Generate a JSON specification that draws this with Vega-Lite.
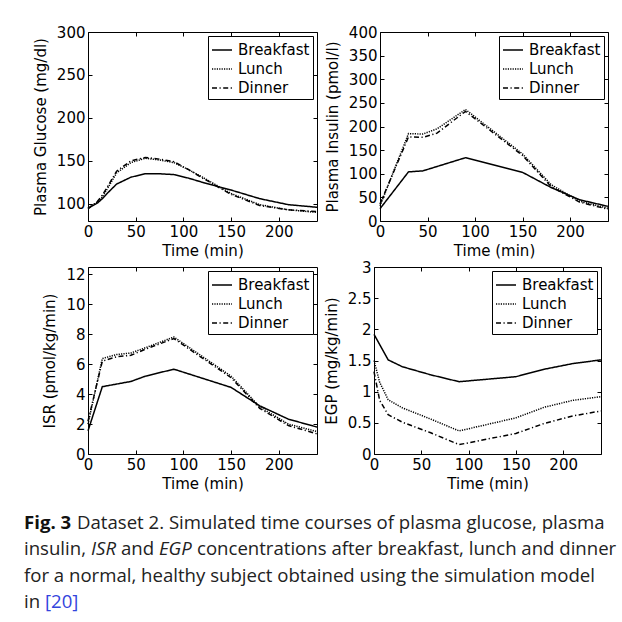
{
  "$schema": "https://vega.github.io/schema/vega-lite/v6.json",
  "background": "white",
  "padding": {"left": 23, "top": 24, "right": 6, "bottom": 0},
  "datasets": {
    "glucose": [
      {"t": 0, "meal": "Breakfast", "v": 95}, {"t": 10, "meal": "Breakfast", "v": 101}, {"t": 15, "meal": "Breakfast", "v": 106}, {"t": 20, "meal": "Breakfast", "v": 112}, {"t": 30, "meal": "Breakfast", "v": 123}, {"t": 45, "meal": "Breakfast", "v": 131}, {"t": 60, "meal": "Breakfast", "v": 135}, {"t": 75, "meal": "Breakfast", "v": 135}, {"t": 90, "meal": "Breakfast", "v": 134}, {"t": 105, "meal": "Breakfast", "v": 130}, {"t": 120, "meal": "Breakfast", "v": 125}, {"t": 150, "meal": "Breakfast", "v": 116}, {"t": 180, "meal": "Breakfast", "v": 106}, {"t": 210, "meal": "Breakfast", "v": 99}, {"t": 240, "meal": "Breakfast", "v": 96},
      {"t": 0, "meal": "Lunch", "v": 95}, {"t": 10, "meal": "Lunch", "v": 102}, {"t": 15, "meal": "Lunch", "v": 108}, {"t": 20, "meal": "Lunch", "v": 117}, {"t": 30, "meal": "Lunch", "v": 136}, {"t": 45, "meal": "Lunch", "v": 148}, {"t": 60, "meal": "Lunch", "v": 153}, {"t": 75, "meal": "Lunch", "v": 151}, {"t": 90, "meal": "Lunch", "v": 148}, {"t": 105, "meal": "Lunch", "v": 140}, {"t": 120, "meal": "Lunch", "v": 131}, {"t": 150, "meal": "Lunch", "v": 112}, {"t": 180, "meal": "Lunch", "v": 99}, {"t": 210, "meal": "Lunch", "v": 93}, {"t": 240, "meal": "Lunch", "v": 90},
      {"t": 0, "meal": "Dinner", "v": 94}, {"t": 10, "meal": "Dinner", "v": 103}, {"t": 15, "meal": "Dinner", "v": 110}, {"t": 20, "meal": "Dinner", "v": 119}, {"t": 30, "meal": "Dinner", "v": 138}, {"t": 45, "meal": "Dinner", "v": 150}, {"t": 60, "meal": "Dinner", "v": 154}, {"t": 75, "meal": "Dinner", "v": 152}, {"t": 90, "meal": "Dinner", "v": 149}, {"t": 105, "meal": "Dinner", "v": 140}, {"t": 120, "meal": "Dinner", "v": 130}, {"t": 150, "meal": "Dinner", "v": 111}, {"t": 180, "meal": "Dinner", "v": 98}, {"t": 210, "meal": "Dinner", "v": 93}, {"t": 240, "meal": "Dinner", "v": 91}
    ],
    "insulin": [
      {"t": 0, "meal": "Breakfast", "v": 26}, {"t": 30, "meal": "Breakfast", "v": 104}, {"t": 45, "meal": "Breakfast", "v": 106}, {"t": 90, "meal": "Breakfast", "v": 134}, {"t": 150, "meal": "Breakfast", "v": 103}, {"t": 180, "meal": "Breakfast", "v": 71}, {"t": 210, "meal": "Breakfast", "v": 45}, {"t": 240, "meal": "Breakfast", "v": 31},
      {"t": 0, "meal": "Lunch", "v": 32}, {"t": 30, "meal": "Lunch", "v": 185}, {"t": 45, "meal": "Lunch", "v": 184}, {"t": 60, "meal": "Lunch", "v": 195}, {"t": 90, "meal": "Lunch", "v": 236}, {"t": 150, "meal": "Lunch", "v": 142}, {"t": 180, "meal": "Lunch", "v": 77}, {"t": 210, "meal": "Lunch", "v": 42}, {"t": 240, "meal": "Lunch", "v": 27},
      {"t": 0, "meal": "Dinner", "v": 36}, {"t": 30, "meal": "Dinner", "v": 178}, {"t": 45, "meal": "Dinner", "v": 177}, {"t": 60, "meal": "Dinner", "v": 186}, {"t": 90, "meal": "Dinner", "v": 232}, {"t": 150, "meal": "Dinner", "v": 139}, {"t": 180, "meal": "Dinner", "v": 73}, {"t": 210, "meal": "Dinner", "v": 40}, {"t": 240, "meal": "Dinner", "v": 25}
    ],
    "isr": [
      {"t": 0, "meal": "Breakfast", "v": 1.55}, {"t": 15, "meal": "Breakfast", "v": 4.5}, {"t": 45, "meal": "Breakfast", "v": 4.85}, {"t": 60, "meal": "Breakfast", "v": 5.2}, {"t": 90, "meal": "Breakfast", "v": 5.67}, {"t": 150, "meal": "Breakfast", "v": 4.45}, {"t": 180, "meal": "Breakfast", "v": 3.22}, {"t": 210, "meal": "Breakfast", "v": 2.33}, {"t": 240, "meal": "Breakfast", "v": 1.8},
      {"t": 0, "meal": "Lunch", "v": 2.0}, {"t": 15, "meal": "Lunch", "v": 6.38}, {"t": 30, "meal": "Lunch", "v": 6.65}, {"t": 45, "meal": "Lunch", "v": 6.75}, {"t": 60, "meal": "Lunch", "v": 7.1}, {"t": 90, "meal": "Lunch", "v": 7.82}, {"t": 150, "meal": "Lunch", "v": 5.2}, {"t": 180, "meal": "Lunch", "v": 3.15}, {"t": 210, "meal": "Lunch", "v": 2.0}, {"t": 240, "meal": "Lunch", "v": 1.5},
      {"t": 0, "meal": "Dinner", "v": 2.2}, {"t": 15, "meal": "Dinner", "v": 6.2}, {"t": 30, "meal": "Dinner", "v": 6.5}, {"t": 45, "meal": "Dinner", "v": 6.6}, {"t": 60, "meal": "Dinner", "v": 7.0}, {"t": 90, "meal": "Dinner", "v": 7.72}, {"t": 150, "meal": "Dinner", "v": 5.1}, {"t": 180, "meal": "Dinner", "v": 3.05}, {"t": 210, "meal": "Dinner", "v": 1.9}, {"t": 240, "meal": "Dinner", "v": 1.35}
    ],
    "egp": [
      {"t": 0, "meal": "Breakfast", "v": 1.92}, {"t": 15, "meal": "Breakfast", "v": 1.51}, {"t": 30, "meal": "Breakfast", "v": 1.4}, {"t": 60, "meal": "Breakfast", "v": 1.27}, {"t": 90, "meal": "Breakfast", "v": 1.16}, {"t": 150, "meal": "Breakfast", "v": 1.24}, {"t": 180, "meal": "Breakfast", "v": 1.36}, {"t": 210, "meal": "Breakfast", "v": 1.45}, {"t": 240, "meal": "Breakfast", "v": 1.51},
      {"t": 0, "meal": "Lunch", "v": 1.5}, {"t": 6, "meal": "Lunch", "v": 1.15}, {"t": 15, "meal": "Lunch", "v": 0.87}, {"t": 30, "meal": "Lunch", "v": 0.74}, {"t": 60, "meal": "Lunch", "v": 0.56}, {"t": 90, "meal": "Lunch", "v": 0.37}, {"t": 150, "meal": "Lunch", "v": 0.58}, {"t": 180, "meal": "Lunch", "v": 0.75}, {"t": 210, "meal": "Lunch", "v": 0.86}, {"t": 240, "meal": "Lunch", "v": 0.92},
      {"t": 0, "meal": "Dinner", "v": 1.32}, {"t": 6, "meal": "Dinner", "v": 0.86}, {"t": 15, "meal": "Dinner", "v": 0.63}, {"t": 30, "meal": "Dinner", "v": 0.51}, {"t": 60, "meal": "Dinner", "v": 0.34}, {"t": 90, "meal": "Dinner", "v": 0.15}, {"t": 150, "meal": "Dinner", "v": 0.33}, {"t": 180, "meal": "Dinner", "v": 0.49}, {"t": 210, "meal": "Dinner", "v": 0.61}, {"t": 240, "meal": "Dinner", "v": 0.69}
    ],
    "caption": [
      {"line": 1, "part": "bold", "text": "Fig. 3"},
      {"line": 1, "part": "l1", "text": "Dataset 2. Simulated time courses of plasma glucose, plasma"},
      {"line": 2, "part": "plain", "text": "insulin,"},
      {"line": 2, "part": "isr", "text": "ISR"},
      {"line": 2, "part": "and", "text": "and"},
      {"line": 2, "part": "egp", "text": "EGP"},
      {"line": 2, "part": "l2b", "text": "concentrations after breakfast, lunch and dinner"},
      {"line": 3, "part": "plain", "text": "for a normal, healthy subject obtained using the simulation model"},
      {"line": 4, "part": "plain", "text": "in"},
      {"line": 4, "part": "ref", "text": "[20]"}
    ]
  },
  "vconcat": [
    {
      "vconcat": [
        {
          "hconcat": [
            {
              "data": {"name": "glucose"},
              "width": 229, "height": 189,
              "layer": [
                {
                  "mark": {"type": "line", "color": "black", "strokeWidth": 1.5},
                  "encoding": {
                    "x": {"field": "t", "type": "quantitative", "scale": {"domain": [0, 240], "nice": false}, "axis": {"title": "Time (min)", "values": [0, 50, 100, 150, 200]}},
                    "y": {"field": "v", "type": "quantitative", "scale": {"domain": [80, 300], "nice": false, "zero": false}, "axis": {"title": "Plasma Glucose (mg/dl)", "values": [100, 150, 200, 250, 300]}},
                    "strokeDash": {"field": "meal", "type": "nominal", "scale": {"domain": ["Breakfast", "Lunch", "Dinner"], "range": [[1, 0], [1.2, 1.2], [5, 2.5, 1.2, 2.5]]}}
                  }
                },
                {
                  "mark": {"type": "line", "opacity": 0},
                  "encoding": {
                    "x": {"field": "t", "type": "quantitative", "scale": {"domain": [0, 240], "nice": false}, "axis": {"orient": "top", "labels": false, "title": null, "values": [0, 50, 100, 150, 200]}},
                    "y": {"field": "v", "type": "quantitative", "scale": {"domain": [80, 300], "nice": false, "zero": false}, "axis": {"orient": "right", "labels": false, "title": null, "values": [100, 150, 200, 250, 300]}},
                    "detail": {"field": "meal"}
                  }
                }
              ],
              "resolve": {"axis": {"x": "independent", "y": "independent"}}
            },
            {
              "data": {"name": "insulin"},
              "width": 228, "height": 189,
              "layer": [
                {
                  "mark": {"type": "line", "color": "black", "strokeWidth": 1.5},
                  "encoding": {
                    "x": {"field": "t", "type": "quantitative", "scale": {"domain": [0, 240], "nice": false}, "axis": {"title": "Time (min)", "values": [0, 50, 100, 150, 200]}},
                    "y": {"field": "v", "type": "quantitative", "scale": {"domain": [0, 400], "nice": false}, "axis": {"title": "Plasma Insulin (pmol/l)", "values": [0, 50, 100, 150, 200, 250, 300, 350, 400]}},
                    "strokeDash": {"field": "meal", "type": "nominal", "scale": {"domain": ["Breakfast", "Lunch", "Dinner"], "range": [[1, 0], [1.2, 1.2], [5, 2.5, 1.2, 2.5]]}}
                  }
                },
                {
                  "mark": {"type": "line", "opacity": 0},
                  "encoding": {
                    "x": {"field": "t", "type": "quantitative", "scale": {"domain": [0, 240], "nice": false}, "axis": {"orient": "top", "labels": false, "title": null, "values": [0, 50, 100, 150, 200]}},
                    "y": {"field": "v", "type": "quantitative", "scale": {"domain": [0, 400], "nice": false}, "axis": {"orient": "right", "labels": false, "title": null, "values": [0, 50, 100, 150, 200, 250, 300, 350, 400]}},
                    "detail": {"field": "meal"}
                  }
                }
              ],
              "resolve": {"axis": {"x": "independent", "y": "independent"}}
            }
          ],
          "spacing": 3,
          "resolve": {"scale": {"strokeDash": "independent"}, "legend": {"strokeDash": "independent"}}
        },
        {
          "hconcat": [
            {
              "data": {"name": "isr"},
              "width": 229, "height": 187,
              "layer": [
                {
                  "mark": {"type": "line", "color": "black", "strokeWidth": 1.5},
                  "encoding": {
                    "x": {"field": "t", "type": "quantitative", "scale": {"domain": [0, 240], "nice": false}, "axis": {"title": "Time (min)", "values": [0, 50, 100, 150, 200]}},
                    "y": {"field": "v", "type": "quantitative", "scale": {"domain": [0, 12.5], "nice": false}, "axis": {"title": "ISR (pmol/kg/min)", "values": [0, 2, 4, 6, 8, 10, 12]}},
                    "strokeDash": {"field": "meal", "type": "nominal", "scale": {"domain": ["Breakfast", "Lunch", "Dinner"], "range": [[1, 0], [1.2, 1.2], [5, 2.5, 1.2, 2.5]]}}
                  }
                },
                {
                  "mark": {"type": "line", "opacity": 0},
                  "encoding": {
                    "x": {"field": "t", "type": "quantitative", "scale": {"domain": [0, 240], "nice": false}, "axis": {"orient": "top", "labels": false, "title": null, "values": [0, 50, 100, 150, 200]}},
                    "y": {"field": "v", "type": "quantitative", "scale": {"domain": [0, 12.5], "nice": false}, "axis": {"orient": "right", "labels": false, "title": null, "values": [0, 2, 4, 6, 8, 10, 12]}},
                    "detail": {"field": "meal"}
                  }
                }
              ],
              "resolve": {"axis": {"x": "independent", "y": "independent"}}
            },
            {
              "data": {"name": "egp"},
              "width": 227, "height": 187,
              "layer": [
                {
                  "mark": {"type": "line", "color": "black", "strokeWidth": 1.5},
                  "encoding": {
                    "x": {"field": "t", "type": "quantitative", "scale": {"domain": [0, 240], "nice": false}, "axis": {"title": "Time (min)", "values": [0, 50, 100, 150, 200]}},
                    "y": {"field": "v", "type": "quantitative", "scale": {"domain": [0, 3], "nice": false}, "axis": {"title": "EGP (mg/kg/min)", "format": "~g", "values": [0, 0.5, 1, 1.5, 2, 2.5, 3]}},
                    "strokeDash": {"field": "meal", "type": "nominal", "scale": {"domain": ["Breakfast", "Lunch", "Dinner"], "range": [[1, 0], [1.2, 1.2], [5, 2.5, 1.2, 2.5]]}}
                  }
                },
                {
                  "mark": {"type": "line", "opacity": 0},
                  "encoding": {
                    "x": {"field": "t", "type": "quantitative", "scale": {"domain": [0, 240], "nice": false}, "axis": {"orient": "top", "labels": false, "title": null, "values": [0, 50, 100, 150, 200]}},
                    "y": {"field": "v", "type": "quantitative", "scale": {"domain": [0, 3], "nice": false}, "axis": {"orient": "right", "labels": false, "title": null, "values": [0, 0.5, 1, 1.5, 2, 2.5, 3]}},
                    "detail": {"field": "meal"}
                  }
                }
              ],
              "resolve": {"axis": {"x": "independent", "y": "independent"}}
            }
          ],
          "spacing": 2,
          "resolve": {"scale": {"strokeDash": "independent"}, "legend": {"strokeDash": "independent"}}
        }
      ],
      "spacing": 0,
      "resolve": {"scale": {"strokeDash": "independent"}, "legend": {"strokeDash": "independent"}}
    },
    {
      "data": {"name": "caption"},
      "width": 520, "height": 105,
      "view": {"stroke": null},
      "encoding": {
        "x": {"datum": 0, "type": "quantitative", "scale": {"domain": [0.12308, 1.12308]}, "axis": null},
        "y": {"field": "line", "type": "ordinal", "scale": {"type": "band", "paddingInner": 0, "paddingOuter": 0}, "axis": null},
        "text": {"field": "text"}
      },
      "layer": [
        {"transform": [{"filter": "datum.part === 'bold'"}], "mark": {"type": "text", "align": "left", "font": "Open Sans", "fontSize": 18.6, "fontWeight": "bold", "color": "#111"}},
        {"transform": [{"filter": "datum.part === 'l1'"}], "mark": {"type": "text", "align": "left", "font": "Open Sans", "fontSize": 18.6, "color": "#222", "dx": 53}},
        {"transform": [{"filter": "datum.part === 'plain'"}], "mark": {"type": "text", "align": "left", "font": "Open Sans", "fontSize": 18.6, "color": "#222"}},
        {"transform": [{"filter": "datum.part === 'isr'"}], "mark": {"type": "text", "align": "left", "font": "Open Sans", "fontSize": 18.6, "fontStyle": "italic", "color": "#222", "dx": 67}},
        {"transform": [{"filter": "datum.part === 'and'"}], "mark": {"type": "text", "align": "left", "font": "Open Sans", "fontSize": 18.6, "color": "#222", "dx": 97}},
        {"transform": [{"filter": "datum.part === 'egp'"}], "mark": {"type": "text", "align": "left", "font": "Open Sans", "fontSize": 18.6, "fontStyle": "italic", "color": "#222", "dx": 135}},
        {"transform": [{"filter": "datum.part === 'l2b'"}], "mark": {"type": "text", "align": "left", "font": "Open Sans", "fontSize": 18.6, "color": "#222", "dx": 173}},
        {"transform": [{"filter": "datum.part === 'ref'"}], "mark": {"type": "text", "align": "left", "font": "Open Sans", "fontSize": 18.6, "color": "#3344dd", "dx": 21}}
      ]
    }
  ],
  "spacing": 18,
  "resolve": {"scale": {"strokeDash": "independent"}, "legend": {"strokeDash": "independent"}},
  "config": {
    "font": "DejaVu Sans",
    "view": {"stroke": "black", "strokeWidth": 1},
    "axis": {
      "grid": false,
      "domain": false,
      "ticks": true,
      "tickColor": "black",
      "tickSize": -4,
      "labelPadding": 7,
      "labelFont": "DejaVu Sans",
      "labelFontSize": 15,
      "labelColor": "black",
      "labelFlush": false,
      "labelOverlap": false,
      "titleFont": "DejaVu Sans",
      "titleFontSize": 15,
      "titleFontWeight": "normal",
      "titleColor": "black",
      "titlePadding": 4
    },
    "axisX": {"titleFontWeight": "normal", "titlePadding": 4},
    "axisY": {"titleFontWeight": "normal", "titlePadding": 8},
    "legend": {
      "title": null,
      "orient": "top-right",
      "offset": 4,
      "strokeColor": "black",
      "fillColor": "white",
      "padding": 3,
      "cornerRadius": 0,
      "labelFont": "DejaVu Sans",
      "labelFontSize": 15,
      "labelColor": "black",
      "labelOffset": 5,
      "rowPadding": 0,
      "symbolType": "stroke",
      "symbolSize": 400,
      "symbolStrokeWidth": 1.5,
      "symbolStrokeColor": "black"
    }
  }
}
